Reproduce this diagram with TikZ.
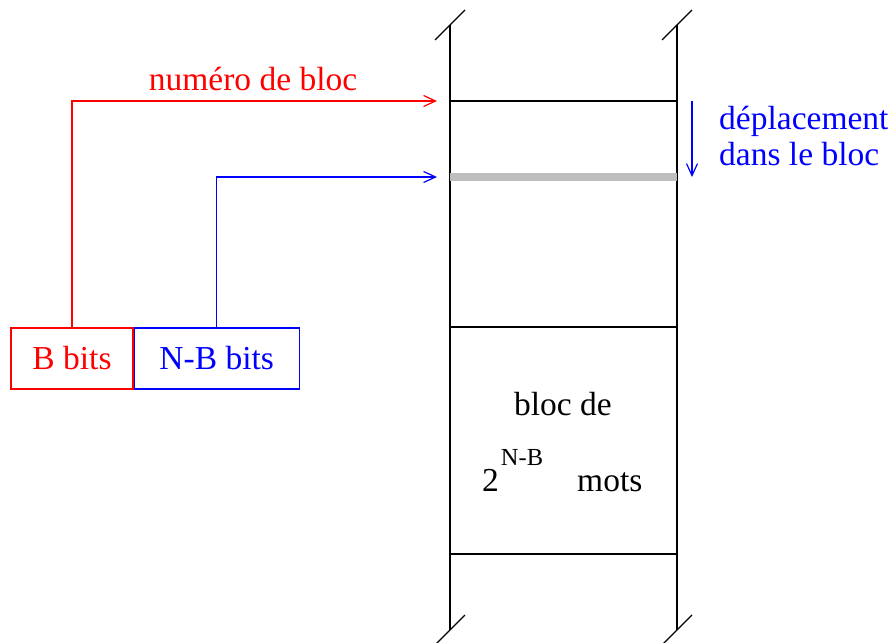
\documentclass[tikz,border=0pt]{standalone}
\usepackage{fontspec}
\setmainfont{Liberation Serif}
\usetikzlibrary{arrows.meta}
\definecolor{bred}{RGB}{255,0,0}
\definecolor{bblue}{RGB}{0,0,255}
\definecolor{offgrey}{RGB}{190,190,190}
\begin{document}
\begin{tikzpicture}[x=1pt,y=-1pt,
  every node/.style={font=\fontsize{33.5}{40}\selectfont, inner sep=0pt},
  wire/.style={line width=1.2pt},
  fieldbox/.style={draw, line width=1.2pt, minimum height=61pt},
  barb/.style={-{Straight Barb[length=12pt,width=11pt,line width=1.2pt]}},
  brk/.style={line width=1.2pt}]
\useasboundingbox (0,0) rectangle (896,642);

% memory column: two walls with break marks at both ends
\coordinate (lt) at (450,25);  \coordinate (lb) at (450,630);
\coordinate (rt) at (677,25);  \coordinate (rb) at (677,630);
\draw[wire] (lt) -- (lb);
\draw[wire] (rt) -- (rb);
\foreach \p in {lt,lb,rt,rb}
  \draw[brk] ([shift={(-15,15)}]\p) -- ([shift={(15,-15)}]\p);

% block boundaries
\coordinate (b1l) at (450,101); \coordinate (b1r) at (677,101);
\coordinate (wl)  at (450,177); \coordinate (wr)  at (677,177);
\coordinate (b2l) at (450,327); \coordinate (b2r) at (677,327);
\coordinate (b3l) at (450,554); \coordinate (b3r) at (677,554);
\draw[wire] (b1l) -- (b1r);
\draw[wire] (b2l) -- (b2r);
\draw[wire] (b3l) -- (b3r);
\draw[offgrey, line width=8pt] (wl) -- (wr);

% address fields
\node[fieldbox, draw=bred, text=bred, minimum width=122pt] (bf) at (72,358.5) {B bits};
\node[fieldbox, draw=bblue, text=bblue, minimum width=165pt, anchor=west] (nbf) at (bf.east) {N-B bits};

% connectors from the fields to the memory
\coordinate (rtip) at (437,101);
\coordinate (btip) at (437,177);
\draw[wire, bred, barb] (bf.north) |- (rtip);
\draw[wire, bblue, barb] (nbf.north) |- (btip);
\node[text=bred, anchor=base] (num) at (253,90) {numéro de bloc};

% offset inside the block
\coordinate (os) at (692,101);
\coordinate (oe) at (692,177);
\draw[wire, bblue, barb] (os) -- (oe);
\node[text=bblue, anchor=base west] (dep) at (719,129) {déplacement};
\node[text=bblue, anchor=base west] (dans) at (719,165) {dans le bloc};

% block label
\node[anchor=base] (bl) at (563,415) {bloc de};
\node[anchor=base west] (two) at (482,491) {2\hspace{2pt}\raisebox{26pt}{\fontsize{24.5}{29}\selectfont N-B}};
\node[anchor=base west] (mots) at (577,491) {mots};
\end{tikzpicture}
\end{document}
